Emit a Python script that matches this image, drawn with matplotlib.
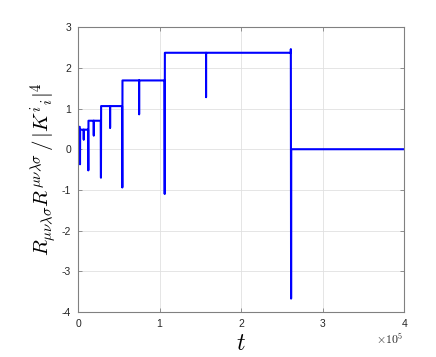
import numpy as np
import matplotlib.pyplot as plt

plt.rcParams['mathtext.fontset'] = 'cm'
plt.rcParams['font.family'] = ['Liberation Sans', 'DejaVu Sans']

# step levels of the curvature ratio and the times where the level changes
levels = [0.55, 0.48, 0.70, 1.06, 1.69, 2.37, 0.0]
switch_t = [2100, 12300, 27800, 54000, 106000, 261000]
switch_dip = [-0.37, -0.52, -0.70, -0.94, -1.10, -3.67]
switch_peak = [0.55, 0.48, 0.70, 1.06, 1.69, 2.46]

# short spikes in the middle of a level
mid_t = [7000, 19300, 39300, 74900, 157000]
mid_dip = [0.24, 0.34, 0.53, 0.86, 1.28]

t_end = 4e5

# build the polyline
events = [(t, 'switch', i) for i, t in enumerate(switch_t)] + \
         [(t, 'mid', i) for i, t in enumerate(mid_t)]
events.sort()
ts = [0.0]
rs = [levels[0]]
cur = levels[0]
lvl_i = 0
for t, kind, i in events:
    if kind == 'mid':
        ts += [t, t, t]
        rs += [cur, mid_dip[i], cur]
    else:
        lvl_i += 1
        new = levels[lvl_i]
        ts += [t, t, t + 300, t + 500]
        rs += [cur, switch_peak[i], switch_dip[i], new]
        cur = new
ts.append(t_end)
rs.append(cur)

fig = plt.figure(figsize=(4.36, 3.57), dpi=100)
ax = fig.add_axes([0.179, 0.126, 0.748, 0.798])
ax.plot(ts, rs, color=(0, 0, 1), lw=1.5)

ax.set_xlim(0, 4e5)
ax.set_ylim(-4, 3)
ax.set_xticks([0, 1e5, 2e5, 3e5, 4e5])
ax.set_xticklabels(['0', '1', '2', '3', '4'])
ax.set_yticks(range(-4, 4))
ax.set_yticklabels([str(v) for v in range(-4, 4)])
ax.grid(True, color='0.88', lw=0.6)
ax.set_axisbelow(True)
ax.tick_params(direction='in', top=True, right=True, labelsize=7.5,
               colors='0.5', labelcolor='0.15', length=3, width=0.6, pad=5)
for s in ax.spines.values():
    s.set_color('0.5')
    s.set_linewidth(0.8)

ax.set_xlabel(r'$t$', fontsize=17, labelpad=3)
ax.set_ylabel(r'$R_{\mu\nu\lambda\sigma}R^{\mu\nu\lambda\sigma}\,/\,|K^i{}_i|^4$',
              fontsize=15, labelpad=2)
fig.text(0.862, 0.035, r'$\times 10^{5}$', fontsize=8.5, color='0.15')

fig.savefig('out.png', dpi=100)
